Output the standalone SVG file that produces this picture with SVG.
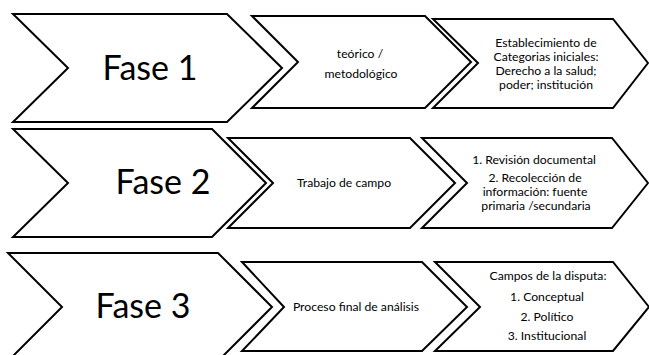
<svg xmlns="http://www.w3.org/2000/svg" width="649" height="355" viewBox="0 0 649 355">
  <style>
    .chev { fill: #ffffff; stroke: #000000; stroke-width: 2; stroke-linejoin: miter; stroke-miterlimit: 10; }
    .phase { font-family: Lato, "Open Sans", sans-serif; font-size: 34px; fill: #000000; text-anchor: middle; }
    .lbl { font-family: Lato, "Open Sans", sans-serif; font-size: 12.2px; fill: #000000; text-anchor: middle; }
  </style>
  <rect x="0" y="0" width="649" height="355" fill="#ffffff"/>

  <!-- Row 1 -->
  <g id="fase1">
    <polygon class="chev" points="13,14 227,14 282,68 227,122 13,122 68,68"/>
    <text class="phase" x="150" y="80">Fase 1</text>
  </g>
  <g id="fase1-enfoque">
    <polygon class="chev" points="252,16 425,16 471,62 425,108 252,108 298,62"/>
    <text class="lbl" x="360" y="58">teórico /</text>
    <text class="lbl" x="361" y="78">metodológico</text>
  </g>
  <g id="fase1-categorias">
    <polygon class="chev" points="433,19 613,19 648,63 613,108 433,108 478,63"/>
    <text class="lbl" x="546" y="47">Establecimiento de</text>
    <text class="lbl" x="546" y="61">Categorias iniciales:</text>
    <text class="lbl" x="546" y="75">Derecho a la salud;</text>
    <text class="lbl" x="546" y="89">poder; institución</text>
  </g>

  <!-- Row 2 -->
  <g id="fase2">
    <polygon class="chev" points="13,129 212,129 266,183 212,237 13,237 68,183"/>
    <text class="phase" x="163" y="194">Fase 2</text>
  </g>
  <g id="fase2-campo">
    <polygon class="chev" points="228,138 410,138 455,183 410,228 228,228 273,183"/>
    <text class="lbl" x="344" y="187">Trabajo de campo</text>
  </g>
  <g id="fase2-recoleccion">
    <polygon class="chev" points="422,138 612,138 648,183 612,228 422,228 467,183"/>
    <text class="lbl" x="534" y="164">1. Revisión documental</text>
    <text class="lbl" x="535" y="182">2. Recolección de</text>
    <text class="lbl" x="535" y="196">información: fuente</text>
    <text class="lbl" x="536" y="210">primaria /secundaria</text>
  </g>

  <!-- Row 3 -->
  <g id="fase3">
    <polygon class="chev" points="8,253 218,253 272,307 218,361 8,361 62,307"/>
    <text class="phase" x="143" y="318">Fase 3</text>
  </g>
  <g id="fase3-analisis">
    <polygon class="chev" points="242,262 422,262 467,307 422,351 242,351 284,307"/>
    <text class="lbl" x="356" y="311">Proceso final de análisis</text>
  </g>
  <g id="fase3-disputa">
    <polygon class="chev" points="435,262 613,262 649,307 613,351 435,351 480,307"/>
    <text class="lbl" x="548" y="280">Campos de la disputa:</text>
    <text class="lbl" x="547" y="301">1. Conceptual</text>
    <text class="lbl" x="547" y="321">2. Político</text>
    <text class="lbl" x="547" y="340">3. Institucional</text>
  </g>
</svg>
